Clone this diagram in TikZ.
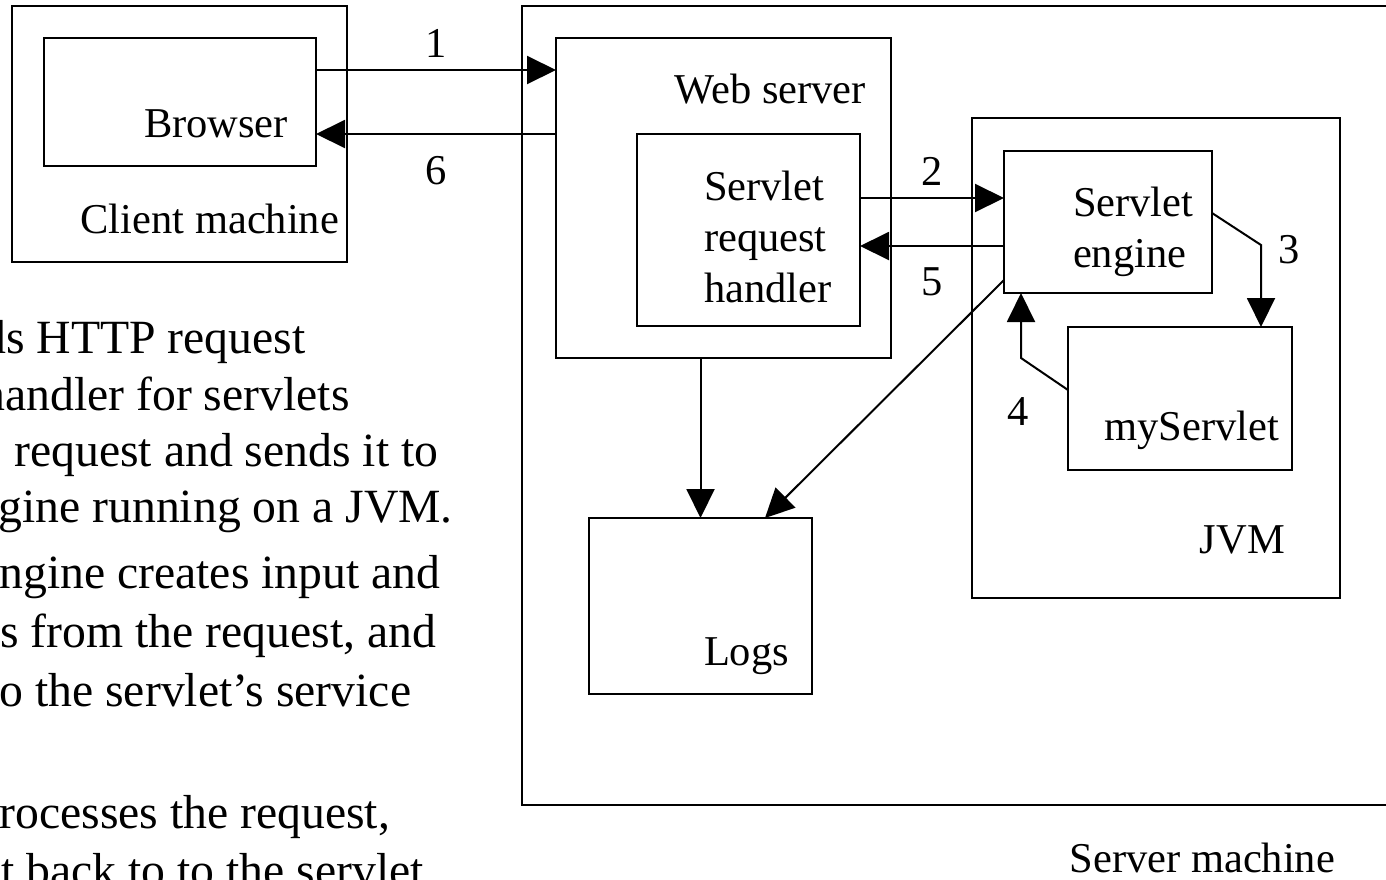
\documentclass[tikz,border=0pt]{standalone}
\usepackage{fontspec}
\setmainfont{Liberation Serif}
\usepackage{tikz}
\usetikzlibrary{positioning,arrows.meta,calc}
\tikzset{
  sv-box/.style={
    draw=black, line width=1pt, inner sep=0pt, outer sep=0pt,
    anchor=north west
  },
  sv-flow/.style={-{Triangle[length=14.5pt,width=14pt]}, line width=1pt,
    draw=black},
  sv-label/.style={font=\fontsize{21.25pt}{25.5pt}\selectfont,
    inner sep=0pt, outer sep=0pt},
  sv-note/.style={font=\fontsize{23.85pt}{28pt}\selectfont,
    inner sep=0pt, anchor=base west}
}

\begin{document}
\begin{tikzpicture}[x=0.5pt, y=-0.5pt]
\useasboundingbox (0,0) rectangle (1386,879);
\clip (0,0) rectangle (1386,879);

% client side
\node[sv-box, minimum width=167.5pt, minimum height=128pt] (client) at (12,6) {};
\node[sv-box, minimum width=136pt, minimum height=64pt] (browser) at (44,38) {};
\node[sv-label, anchor=base east] (browserlbl) at (288,137) {Browser};
\node[sv-label, anchor=base east] (clientlbl) at (339,233) {Client machine};

% server side
\node[sv-box, minimum width=460pt, minimum height=399.5pt] (server) at (522,6) {};
\node[sv-box, minimum width=167.5pt, minimum height=160pt] (web) at (556,38) {};
\node[sv-label, anchor=base east] (weblbl) at (866,103) {Web server};
\node[sv-box, minimum width=111.5pt, minimum height=96pt] (handler) at (637,134) {};
\node[sv-label, anchor=north west, align=left] (handlerlbl) at (704,171)
  {Servlet\\request\\handler};

\node[sv-box, minimum width=184pt, minimum height=240pt] (jvm) at (972,118) {};
\node[sv-label, anchor=base east] (jvmlbl) at (1285,553) {JVM};
\node[sv-box, minimum width=104pt, minimum height=71pt] (engine) at (1004,151) {};
\node[sv-label, anchor=north west, align=left] (enginelbl) at (1073,187)
  {Servlet\\engine};
\node[sv-box, minimum width=112pt, minimum height=71.5pt] (myservlet) at (1068,327) {};
\node[sv-label, anchor=base east] (myservletlbl) at (1279,440) {myServlet};

\node[sv-box, minimum width=111.5pt, minimum height=88pt] (logs) at (589,518) {};
\node[sv-label, anchor=base east] (logslbl) at (789,665) {Logs};
\node[sv-label, anchor=base east] (serverlbl) at (1335,872) {Server machine};

% numbered steps
\draw[sv-flow] ([yshift=16pt]browser.east) -- node[sv-label, above=6.5pt] (step1) {1}
  ([yshift=16pt]browser.east -| web.west);
\draw[sv-flow] ([yshift=12pt]engine.west -| handler.east) -- node[sv-label, above=6.5pt] (step2) {2}
  ([yshift=12pt]engine.west);
\draw[sv-flow] ([yshift=4.5pt]engine.east) -- ++(49,32) coordinate (bend3)
  -- (bend3 |- myservlet.north);
\node[sv-label, anchor=base] (step3) at (1289,263) {3};
\draw[sv-flow] ([yshift=4.25pt]myservlet.west) -- ++(-47,-32) coordinate (bend4)
  -- (bend4 |- engine.south);
\node[sv-label, anchor=base] (step4) at (1018,425) {4};
\draw[sv-flow] ([yshift=-12pt]engine.west) -- node[sv-label, below=11pt] (step5) {5}
  ([yshift=-12pt]engine.west -| handler.east);
\draw[sv-flow] ([yshift=-16pt]browser.east -| web.west) -- node[sv-label, below=11pt] (step6) {6}
  ([yshift=-16pt]browser.east);

% logging
\draw[sv-flow] (web.south -| logs.north) -- (logs.north);
\draw[sv-flow] ([yshift=-29pt]engine.west) -- ([xshift=32.25pt]logs.north);

% notes on the left, cut by the frame
\node[sv-note] (note1) at (-18,353) {ds HTTP request};
\node[sv-note] (note2) at (-19,410) {handler for servlets};
\node[sv-note] (note3) at (14,466) {request and sends it to};
\node[sv-note] (note4) at (-2,522) {gine running on a JVM.};
\node[sv-note] (note5) at (-1,588) {ngine creates input and};
\node[sv-note] (note6) at (0,647) {s from the request, and};
\node[sv-note] (note7) at (-1,706) {o the servlet’s service};
\node[sv-note] (note8) at (-1,828) {rocesses the request,};
\node[sv-note] (note9) at (1,886) {t back to to the servlet};
\end{tikzpicture}
\end{document}
